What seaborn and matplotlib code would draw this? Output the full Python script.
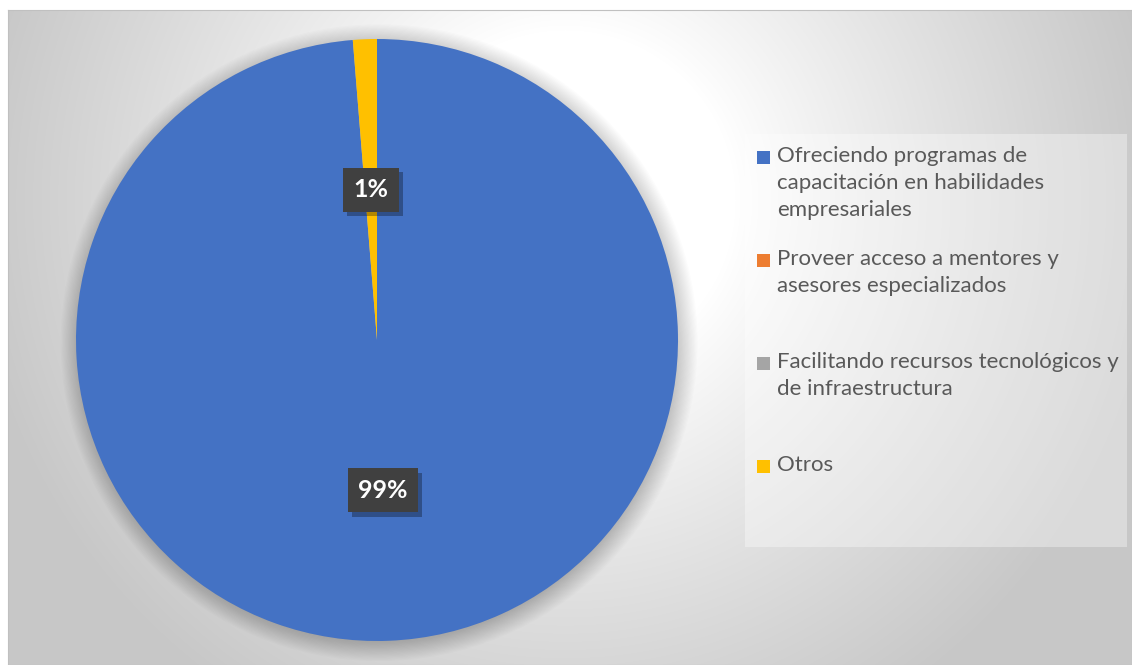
import numpy as np
import matplotlib
matplotlib.use("Agg")
import matplotlib.pyplot as plt
import seaborn as sns
from matplotlib.patches import Rectangle, Circle
from matplotlib import patheffects as pe

# ---------------- data ----------------
categories = [
    "Ofreciendo programas de\ncapacitación en habilidades\nempresariales",
    "Proveer acceso a mentores y\nasesores especializados",
    "Facilitando recursos tecnológicos y\nde infraestructura",
    "Otros",
]
values = [77, 0, 0, 1]
colors = ["#4472C4", "#ED7D31", "#A5A5A5", "#FFC000"]

sns.set_theme(style="white")
FONT = "Lato"
plt.rcParams["font.family"] = [FONT, "DejaVu Sans"]

W, H = 1132, 665
fig = plt.figure(figsize=(W / 100, H / 100), dpi=100, facecolor="white")

# ---------------- background (radial gradient) ----------------
x0, y0 = 8, 10
bw, bh = W - x0, H - y0
bg = fig.add_axes([x0 / W, 0, bw / W, bh / H])
yy, xx = np.mgrid[0:bh, 0:bw]
cx, cy = 565 - x0, 200 - y0
dist = np.sqrt((xx - cx) ** 2 + (yy - cy) ** 2)
t = np.clip((dist - 170) / 430.0, 0, 1)
t = t ** 0.9
b = (255 - 56 * t) / 255.0
img = np.dstack([b, b, b])
bg.imshow(img, aspect="auto", extent=(0, bw, bh, 0), interpolation="bilinear")
bg.set_xlim(0, bw)
bg.set_ylim(bh, 0)
bg.set_xticks([])
bg.set_yticks([])
for s in bg.spines.values():
    s.set_color("#c0c0c0")
    s.set_linewidth(0.8)

# ---------------- pie ----------------
pcx, pcy, R = 377, 340, 301
ax = fig.add_axes([(pcx - R) / W, (H - pcy - R) / H, 2 * R / W, 2 * R / H])
ax.set_facecolor("none")

# soft shadow / glow around the pie
for i in range(18):
    ax.add_patch(Circle((0.007, -0.009), 0.99 + 0.004 * i, color="black",
                        alpha=0.013, lw=0, zorder=0, clip_on=False))

def fmt(p):
    return f"{p:.0f}%" if p > 0.05 else ""

wedges, texts, autotexts = ax.pie(
    values, colors=colors, startangle=90, counterclock=False, radius=1,
    wedgeprops=dict(linewidth=0), autopct=fmt, pctdistance=0.5,
    textprops=dict(color="white", fontsize=18, fontweight="bold",
                   family=["Lato", "DejaVu Sans"]),
)
for w in wedges:
    w.set_zorder(2)
for at in autotexts:
    at.set_zorder(5)
    if at.get_text():
        at.set_bbox(dict(boxstyle="square,pad=0.42", fc="#404040", ec="none"))
        at.get_bbox_patch().set_path_effects(
            [pe.SimplePatchShadow(offset=(3, -3), shadow_rgbFace="black", alpha=0.3),
             pe.Normal()])
ax.set_xlim(-1, 1)
ax.set_ylim(-1, 1)
ax.set_aspect("auto")
ax.axis("off")

# ---------------- legend ----------------
lg = fig.add_axes([0, 0, 1, 1])
lg.set_xlim(0, W)
lg.set_ylim(H, 0)
lg.axis("off")
lg.set_facecolor("none")
lg.add_patch(Rectangle((745, 134), 382, 413, fc="white", alpha=0.35, ec="none"))

fs = 17
starts = [157, 260, 363, 466]
txts = []
for cat, col, ys in zip(categories, colors, starts):
    lg.add_patch(Rectangle((757, ys - 6.5), 13, 13, fc=col, ec="none"))
    t_ = lg.text(777, ys - 11, cat, color="#595959", fontsize=fs,
                 va="top", ha="left", linespacing=1.2)
    txts.append(t_)

# fit font size so the widest line matches the reference width (~340 px)
fig.canvas.draw()
r = fig.canvas.get_renderer()
probe = lg.text(0, 0, "Facilitando recursos tecnológicos y", fontsize=fs)
wpx = probe.get_window_extent(r).width
probe.remove()
nfs = fs * 342.0 / wpx
for t_ in txts:
    t_.set_fontsize(nfs)
probe = lg.text(0, 0, "Ag", fontsize=nfs)
fig.canvas.draw()
hpx = probe.get_window_extent(r).height
probe.remove()
for t_ in txts:
    t_.set_linespacing(29.0 / hpx)

fig.savefig("out.png", dpi=100, facecolor="white")
